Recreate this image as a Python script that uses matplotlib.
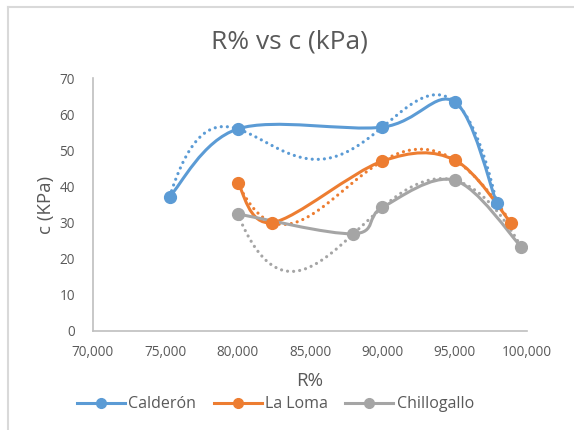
import numpy as np
import matplotlib
matplotlib.use("Agg")
import matplotlib.pyplot as plt
from matplotlib.path import Path
from matplotlib.patches import PathPatch
from matplotlib.lines import Line2D
from matplotlib.ticker import FuncFormatter

plt.rcParams['font.family'] = ['Open Sans', 'DejaVu Sans']

# data
calderon_x = [75.3, 80.0, 90.0, 95.0, 97.9]
calderon_y = [37.2, 55.9, 56.4, 63.4, 35.5]
laloma_x = [80.0, 82.4, 90.0, 95.0, 98.9]
laloma_y = [41.0, 30.0, 47.0, 47.3, 29.9]
chillo_x = [80.0, 88.0, 90.0, 95.0, 99.6]
chillo_y = [32.4, 26.9, 34.2, 41.7, 23.3]

series = [
    ("Calderón", calderon_x, calderon_y, "#5b9bd5"),
    ("La Loma", laloma_x, laloma_y, "#ed7d31"),
    ("Chillogallo", chillo_x, chillo_y, "#a5a5a5"),
]

GRAY = "#595959"
AXIS = "#bfbfbf"


def smooth_path(x, y):
    # Excel-like smoothed line: Catmull-Rom style bezier segments
    pts = np.column_stack([x, y])
    n = len(pts)
    verts = [pts[0]]
    codes = [Path.MOVETO]
    for i in range(n - 1):
        p0 = pts[i - 1] if i > 0 else pts[i]
        p1 = pts[i]
        p2 = pts[i + 1]
        p3 = pts[i + 2] if i + 2 < n else pts[i + 1]
        c1 = p1 + (p2 - p0) / 6.0
        c2 = p2 - (p3 - p1) / 6.0
        verts += [c1, c2, p2]
        codes += [Path.CURVE4] * 3
    return Path(verts, codes)


fig = plt.figure(figsize=(5.74, 4.3), dpi=100)
ax = fig.add_axes([93 / 574, 99 / 430, 434 / 574, 253 / 430])

for name, xs, ys, col in series:
    # polynomial trendline (order 4), dotted
    coef = np.polyfit(xs, ys, 4)
    tx = np.linspace(min(xs), max(xs), 300)
    ax.plot(tx, np.polyval(coef, tx), linestyle=(0, (0.01, 1.9)), color=col,
            lw=2.3, zorder=2, dash_capstyle='round')
    patch = PathPatch(smooth_path(xs, ys), facecolor='none', edgecolor=col,
                      lw=2.2, zorder=3)
    ax.add_patch(patch)
    ax.plot(xs, ys, 'o', color=col, ms=8.5, zorder=4)

ax.set_xlim(70, 100)
ax.set_ylim(0, 70)
ax.set_xticks(np.arange(70, 101, 5))
ax.set_yticks(np.arange(0, 71, 10))
ax.xaxis.set_major_formatter(FuncFormatter(lambda v, p: f"{int(v)},000"))
ax.tick_params(length=0, labelsize=9.8, colors=GRAY)
ax.tick_params(axis='y', pad=13)
ax.tick_params(axis='x', pad=10)
for s in ['top', 'right']:
    ax.spines[s].set_visible(False)
for s in ['left', 'bottom']:
    ax.spines[s].set_color(AXIS)
    ax.spines[s].set_linewidth(1.2)

ax.set_xlabel("R%", fontsize=13.5, color=GRAY, labelpad=9)
ax.set_ylabel("c (KPa)", fontsize=13.5, color=GRAY, labelpad=3)
fig.text(0.505, 0.902, "R% vs c (kPa)", ha='center', va='center',
         fontsize=19, color=GRAY)

handles = [Line2D([0], [0], color=c, lw=2.2, marker='o', ms=7) for _, _, _, c in series]
fig.legend(handles, [s[0] for s in series], loc='center', ncol=3,
           bbox_to_anchor=(0.48, 0.06), frameon=False, fontsize=11.5,
           handlelength=3.0, columnspacing=1.1, handletextpad=0.2,
           labelcolor=GRAY)

# chart area border (top and left visible)
fig.add_artist(Line2D([8 / 574, 1], [1 - 7 / 430, 1 - 7 / 430], color="#d9d9d9", lw=1.5))
fig.add_artist(Line2D([8 / 574, 8 / 574], [0, 1 - 7 / 430], color="#d9d9d9", lw=1.5))

fig.savefig("out.png", dpi=100)
